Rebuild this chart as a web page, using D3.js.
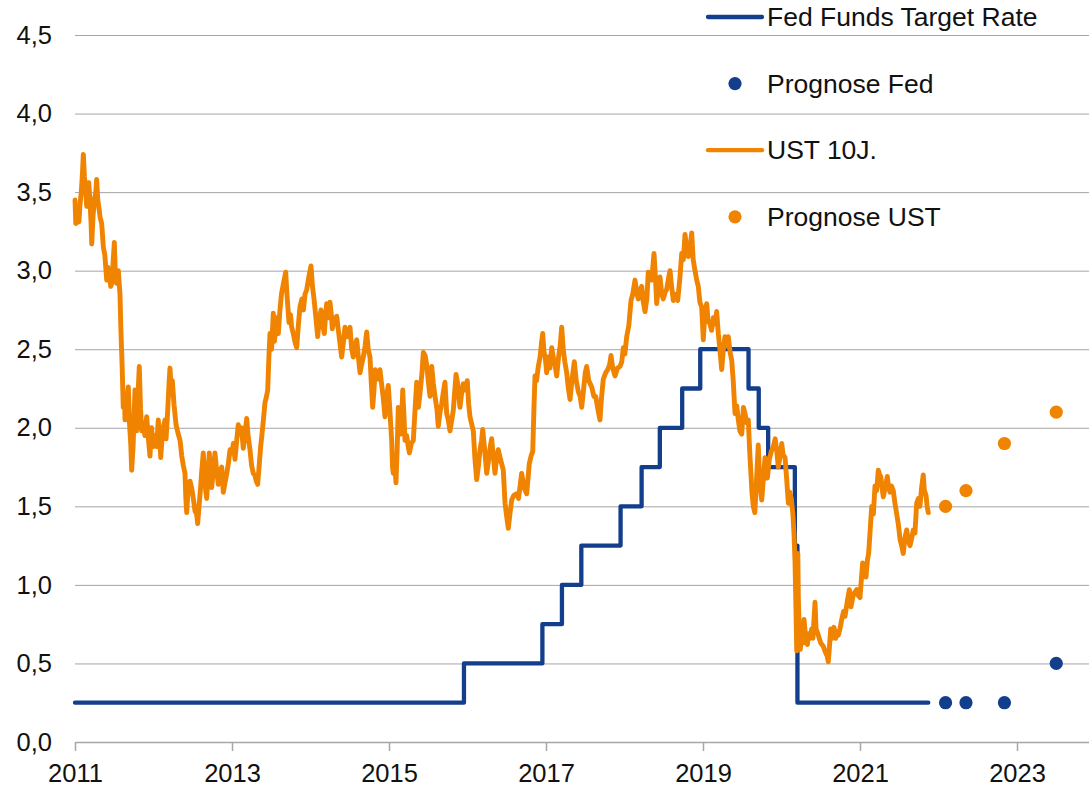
<!DOCTYPE html>
<html><head><meta charset="utf-8">
<script src="https://cdn.jsdelivr.net/npm/d3@7"></script>
<style>
html,body{margin:0;padding:0;background:#fff;}
svg{display:block;font-family:"Liberation Sans",Arial,sans-serif;}
</style></head>
<body>
<svg id="chart" width="1089" height="787"></svg>
<script>
// ---- Data ----
const yTicks = [0, 0.5, 1, 1.5, 2, 2.5, 3, 3.5, 4, 4.5];
const xTicks = [2011, 2013, 2015, 2017, 2019, 2021, 2023];

// Fed Funds Target Rate (upper bound), step changes (decimal year)
const fedYear = [2011.0, 2015.955, 2016.954, 2017.203, 2017.45, 2017.95, 2018.218, 2018.45, 2018.735, 2018.965, 2019.58, 2019.71, 2019.83, 2020.17, 2020.203, 2021.87];
const fedRate = [0.25, 0.5, 0.75, 1.0, 1.25, 1.5, 1.75, 2.0, 2.25, 2.5, 2.25, 2.0, 1.75, 1.25, 0.25, 0.25];

// UST 10Y yield (decimal year, %)
const ustYear = [2011.000,2011.010,2011.030,2011.050,2011.064,2011.080,2011.095,2011.106,2011.120,2011.135,2011.149,2011.160,2011.175,2011.190,2011.205,2011.213,2011.230,2011.250,2011.265,2011.276,2011.290,2011.305,2011.320,2011.340,2011.361,2011.380,2011.404,2011.420,2011.440,2011.455,2011.468,2011.485,2011.501,2011.515,2011.530,2011.552,2011.573,2011.585,2011.600,2011.615,2011.630,2011.637,2011.655,2011.679,2011.695,2011.710,2011.722,2011.740,2011.764,2011.775,2011.786,2011.800,2011.819,2011.835,2011.850,2011.870,2011.890,2011.913,2011.935,2011.955,2011.975,2011.997,2012.020,2012.041,2012.061,2012.080,2012.092,2012.115,2012.146,2012.160,2012.180,2012.200,2012.210,2012.225,2012.240,2012.261,2012.287,2012.310,2012.338,2012.360,2012.380,2012.401,2012.412,2012.423,2012.440,2012.465,2012.485,2012.507,2012.529,2012.550,2012.563,2012.580,2012.600,2012.614,2012.634,2012.650,2012.665,2012.678,2012.695,2012.711,2012.725,2012.741,2012.760,2012.783,2012.800,2012.825,2012.850,2012.869,2012.889,2012.911,2012.930,2012.953,2012.975,2013.000,2013.017,2013.038,2013.060,2013.080,2013.100,2013.120,2013.144,2013.165,2013.187,2013.205,2013.229,2013.250,2013.271,2013.290,2013.310,2013.327,2013.345,2013.365,2013.378,2013.400,2013.420,2013.440,2013.455,2013.470,2013.484,2013.505,2013.526,2013.540,2013.555,2013.570,2013.590,2013.611,2013.630,2013.641,2013.660,2013.684,2013.700,2013.726,2013.745,2013.760,2013.781,2013.800,2013.824,2013.845,2013.866,2013.890,2013.910,2013.930,2013.952,2013.975,2014.006,2014.025,2014.045,2014.065,2014.092,2014.110,2014.134,2014.155,2014.176,2014.190,2014.206,2014.225,2014.248,2014.265,2014.278,2014.300,2014.334,2014.360,2014.380,2014.397,2014.420,2014.439,2014.465,2014.503,2014.525,2014.545,2014.565,2014.589,2014.610,2014.631,2014.650,2014.673,2014.695,2014.716,2014.735,2014.758,2014.775,2014.792,2014.810,2014.825,2014.843,2014.865,2014.885,2014.905,2014.925,2014.949,2014.970,2014.991,2015.010,2015.034,2015.045,2015.055,2015.070,2015.089,2015.105,2015.118,2015.135,2015.149,2015.165,2015.175,2015.190,2015.204,2015.225,2015.245,2015.259,2015.285,2015.310,2015.330,2015.353,2015.375,2015.395,2015.420,2015.437,2015.460,2015.480,2015.500,2015.522,2015.544,2015.565,2015.586,2015.610,2015.628,2015.650,2015.671,2015.690,2015.713,2015.735,2015.755,2015.777,2015.800,2015.819,2015.840,2015.854,2015.875,2015.904,2015.925,2015.947,2015.970,2015.997,2016.015,2016.032,2016.055,2016.074,2016.095,2016.117,2016.140,2016.159,2016.180,2016.194,2016.220,2016.245,2016.270,2016.290,2016.308,2016.330,2016.350,2016.370,2016.392,2016.420,2016.456,2016.478,2016.495,2016.520,2016.540,2016.563,2016.590,2016.627,2016.650,2016.690,2016.720,2016.754,2016.775,2016.787,2016.810,2016.831,2016.845,2016.860,2016.880,2016.902,2016.925,2016.945,2016.958,2016.975,2016.990,2017.009,2017.030,2017.050,2017.073,2017.095,2017.115,2017.136,2017.160,2017.180,2017.200,2017.220,2017.240,2017.264,2017.285,2017.306,2017.330,2017.361,2017.385,2017.412,2017.435,2017.455,2017.480,2017.500,2017.518,2017.545,2017.582,2017.610,2017.633,2017.660,2017.688,2017.705,2017.730,2017.760,2017.786,2017.810,2017.828,2017.850,2017.879,2017.910,2017.943,2017.965,2017.985,2018.005,2018.028,2018.055,2018.083,2018.105,2018.134,2018.155,2018.176,2018.200,2018.219,2018.240,2018.261,2018.285,2018.303,2018.330,2018.346,2018.376,2018.395,2018.410,2018.430,2018.452,2018.475,2018.494,2018.515,2018.537,2018.560,2018.580,2018.600,2018.622,2018.650,2018.678,2018.705,2018.729,2018.750,2018.771,2018.790,2018.813,2018.835,2018.856,2018.875,2018.898,2018.920,2018.940,2018.960,2018.983,2019.004,2019.020,2019.047,2019.065,2019.089,2019.110,2019.131,2019.155,2019.174,2019.195,2019.215,2019.238,2019.260,2019.280,2019.300,2019.322,2019.345,2019.366,2019.385,2019.408,2019.430,2019.450,2019.470,2019.493,2019.515,2019.535,2019.560,2019.577,2019.595,2019.608,2019.625,2019.641,2019.660,2019.675,2019.690,2019.704,2019.720,2019.735,2019.748,2019.770,2019.790,2019.803,2019.820,2019.845,2019.870,2019.896,2019.920,2019.940,2019.959,2019.980,2020.003,2020.020,2020.045,2020.065,2020.087,2020.105,2020.125,2020.145,2020.160,2020.172,2020.180,2020.188,2020.194,2020.201,2020.208,2020.214,2020.225,2020.240,2020.257,2020.275,2020.287,2020.310,2020.330,2020.341,2020.365,2020.385,2020.400,2020.427,2020.440,2020.469,2020.500,2020.532,2020.560,2020.580,2020.596,2020.610,2020.627,2020.645,2020.669,2020.690,2020.710,2020.724,2020.745,2020.767,2020.790,2020.809,2020.830,2020.850,2020.864,2020.885,2020.907,2020.930,2020.958,2020.980,2021.000,2021.020,2021.034,2021.055,2021.076,2021.095,2021.110,2021.130,2021.149,2021.170,2021.191,2021.212,2021.233,2021.250,2021.264,2021.280,2021.297,2021.320,2021.348,2021.365,2021.382,2021.400,2021.424,2021.445,2021.468,2021.490,2021.510,2021.530,2021.551,2021.573,2021.595,2021.615,2021.637,2021.660,2021.679,2021.700,2021.722,2021.743,2021.764,2021.785,2021.806,2021.820,2021.841,2021.855,2021.870];
const ustRate = [3.45,3.30,3.36,3.31,3.42,3.50,3.62,3.74,3.60,3.52,3.41,3.52,3.56,3.45,3.30,3.17,3.35,3.46,3.50,3.58,3.45,3.40,3.34,3.30,3.15,3.10,2.94,3.02,2.97,2.90,2.92,3.05,3.18,2.96,2.92,3.00,2.85,2.62,2.40,2.13,2.20,2.05,2.15,2.26,2.02,1.90,1.73,1.88,2.24,2.10,1.98,2.18,2.39,2.12,1.98,2.03,1.95,2.07,1.93,1.82,2.00,1.88,1.95,1.88,2.05,1.92,1.81,1.98,2.05,1.93,2.10,2.30,2.38,2.25,2.30,2.15,2.02,1.97,1.92,1.82,1.76,1.71,1.55,1.46,1.60,1.66,1.62,1.55,1.47,1.45,1.39,1.50,1.62,1.72,1.84,1.72,1.60,1.55,1.70,1.84,1.70,1.62,1.72,1.84,1.75,1.64,1.72,1.75,1.59,1.65,1.70,1.77,1.86,1.84,1.90,1.80,1.92,2.02,1.96,2.00,1.87,1.96,2.06,1.95,1.86,1.76,1.71,1.70,1.66,1.64,1.75,1.88,1.94,2.05,2.16,2.20,2.24,2.45,2.60,2.50,2.73,2.55,2.62,2.70,2.60,2.75,2.85,2.88,2.93,2.99,2.85,2.67,2.72,2.64,2.60,2.55,2.51,2.65,2.77,2.82,2.75,2.85,2.88,2.95,3.03,2.90,2.82,2.72,2.58,2.68,2.75,2.66,2.60,2.70,2.79,2.70,2.80,2.72,2.63,2.68,2.71,2.60,2.52,2.45,2.55,2.64,2.58,2.64,2.50,2.45,2.52,2.56,2.45,2.35,2.40,2.45,2.52,2.61,2.50,2.45,2.28,2.13,2.25,2.37,2.32,2.31,2.37,2.28,2.20,2.07,2.20,2.27,2.12,1.92,1.75,1.71,1.80,1.65,1.88,2.13,2.05,1.96,2.10,2.24,2.08,1.92,1.95,1.88,1.84,1.90,1.92,2.10,2.29,2.13,2.22,2.35,2.48,2.46,2.40,2.30,2.20,2.39,2.28,2.20,2.12,2.01,2.10,2.15,2.22,2.29,2.09,2.05,1.98,2.05,2.11,2.25,2.34,2.28,2.13,2.22,2.28,2.24,2.30,2.15,2.07,2.02,1.98,1.80,1.67,1.76,1.86,1.92,1.99,1.85,1.71,1.80,1.88,1.93,1.81,1.71,1.80,1.86,1.80,1.73,1.52,1.45,1.36,1.45,1.54,1.57,1.58,1.55,1.71,1.62,1.58,1.70,1.77,1.82,1.85,2.10,2.33,2.30,2.39,2.45,2.55,2.60,2.48,2.45,2.35,2.45,2.38,2.51,2.44,2.40,2.33,2.45,2.52,2.64,2.50,2.42,2.35,2.25,2.18,2.30,2.42,2.30,2.23,2.20,2.13,2.25,2.35,2.39,2.30,2.26,2.20,2.20,2.12,2.05,2.18,2.31,2.35,2.37,2.40,2.46,2.38,2.33,2.38,2.39,2.42,2.51,2.47,2.58,2.65,2.81,2.85,2.94,2.86,2.82,2.88,2.90,2.80,2.74,2.82,2.99,2.95,2.94,3.11,2.95,2.79,2.90,2.96,2.85,2.82,2.86,2.88,2.95,3.00,2.90,2.81,2.85,2.81,2.95,3.11,3.07,3.23,3.15,3.09,3.15,3.24,3.07,3.00,2.94,2.90,2.80,2.77,2.56,2.70,2.79,2.68,2.66,2.62,2.70,2.66,2.74,2.60,2.50,2.37,2.50,2.58,2.52,2.58,2.48,2.43,2.30,2.09,2.14,2.05,1.98,1.96,2.13,2.09,2.03,2.05,1.85,1.73,1.58,1.50,1.46,1.60,1.75,1.89,1.68,1.60,1.54,1.68,1.81,1.76,1.68,1.80,1.85,1.88,1.93,1.85,1.75,1.81,1.90,1.83,1.81,1.68,1.52,1.59,1.55,1.45,1.32,1.15,0.95,0.75,0.58,1.00,1.20,0.93,0.72,0.59,0.72,0.63,0.78,0.65,0.62,0.69,0.66,0.72,0.66,0.89,0.72,0.68,0.63,0.61,0.57,0.55,0.51,0.60,0.72,0.66,0.73,0.66,0.70,0.68,0.72,0.78,0.83,0.80,0.87,0.93,0.97,0.86,0.92,0.95,0.97,0.93,0.92,1.05,1.14,1.10,1.05,1.16,1.20,1.35,1.50,1.45,1.63,1.60,1.73,1.70,1.69,1.62,1.56,1.62,1.69,1.62,1.59,1.63,1.60,1.52,1.45,1.38,1.29,1.25,1.20,1.30,1.35,1.28,1.25,1.30,1.35,1.33,1.52,1.55,1.50,1.62,1.70,1.60,1.57,1.50,1.46];

// Forecasts
const prognoseYear = [2022.09, 2022.35, 2022.84, 2023.5];
const prognoseFed = [0.25, 0.25, 0.25, 0.5];
const prognoseUST = [1.5, 1.6, 1.9, 2.1];

const legendLabels = ["Fed Funds Target Rate", "Prognose Fed", "UST 10J.", "Prognose UST"];

// ---- Chart ----
const mLeft = 75, mBottom = 742, mTop = 35, mRight = 1089;
const blue = "#123E8C", orange = "#F08300";
const svg = d3.select("#chart");

const x = d3.scaleLinear().domain([2011, 2024]).range([mLeft, mLeft + 13 * 78.5]);
const y = d3.scaleLinear().domain([0, 4.5]).range([mBottom, mTop]);

// y gridlines + labels
const yAxis = d3.axisLeft(y).tickValues(yTicks)
  .tickSize(-(mRight - mLeft)).tickPadding(23)
  .tickFormat(d => d3.format(".1f")(d).replace(".", ","));
const gy = svg.append("g").attr("transform", `translate(${mLeft},0)`).call(yAxis);
gy.select(".domain").remove();
gy.selectAll(".tick line").attr("stroke", "#a6a6a6").attr("stroke-width", 1);
gy.selectAll(".tick text").attr("font-size", 25.5).attr("fill", "#111")
  .attr("font-family", '"Liberation Sans", Arial, sans-serif');

// x axis
const xAxis = d3.axisBottom(x).tickValues(xTicks).tickSize(9).tickSizeOuter(0)
  .tickPadding(13).tickFormat(d3.format("d"));
const gx = svg.append("g").attr("transform", `translate(0,${mBottom})`).call(xAxis);
gx.select(".domain").attr("stroke", "#a6a6a6").attr("stroke-width", 1.5);
gx.selectAll(".tick line").attr("stroke", "#a6a6a6").attr("stroke-width", 1.5);
gx.selectAll(".tick text").attr("font-size", 25.5).attr("fill", "#111")
  .attr("font-family", '"Liberation Sans", Arial, sans-serif');

// Fed line (step)
const fedData = fedYear.map((d, i) => [d, fedRate[i]]);
svg.append("path").datum(fedData)
  .attr("fill", "none").attr("stroke", blue).attr("stroke-width", 4.3)
  .attr("stroke-linejoin", "round").attr("stroke-linecap", "round")
  .attr("d", d3.line().x(d => x(d[0])).y(d => y(d[1])).curve(d3.curveStepAfter));

// UST line
const nUst = Math.min(ustYear.length, ustRate.length);
const ustData = ustYear.slice(0, nUst).map((d, i) => [d, ustRate[i]]);
svg.append("path").datum(ustData)
  .attr("fill", "none").attr("stroke", orange).attr("stroke-width", 4.9)
  .attr("stroke-linejoin", "round").attr("stroke-linecap", "round")
  .attr("d", d3.line().x(d => x(d[0])).y(d => y(d[1])));

// Forecast dots
svg.append("g").selectAll("circle").data(prognoseYear.map((d, i) => [d, prognoseFed[i]]))
  .join("circle").attr("cx", d => x(d[0])).attr("cy", d => y(d[1])).attr("r", 6.6).attr("fill", blue);
svg.append("g").selectAll("circle").data(prognoseYear.map((d, i) => [d, prognoseUST[i]]))
  .join("circle").attr("cx", d => x(d[0])).attr("cy", d => y(d[1])).attr("r", 6.6).attr("fill", orange);

// Legend
const legendTypes = ["line", "dot", "line", "dot"];
const legendColors = [blue, blue, orange, orange];
const lg = svg.append("g").attr("transform", "translate(708,17)");
legendLabels.forEach((lab, i) => {
  const g = lg.append("g").attr("transform", `translate(0,${i * 66.6})`);
  if (legendTypes[i] === "line") {
    g.append("line").attr("x1", 0).attr("x2", 54).attr("y1", 0).attr("y2", 0)
      .attr("stroke", legendColors[i]).attr("stroke-width", 4.3).attr("stroke-linecap", "round");
  } else {
    g.append("circle").attr("cx", 27).attr("cy", 0).attr("r", 6.6).attr("fill", legendColors[i]);
  }
  g.append("text").attr("x", 59).attr("y", 0).attr("dy", "0.35em")
    .attr("font-size", 26.5).attr("fill", "#111").text(lab);
});
</script>
</body></html>
